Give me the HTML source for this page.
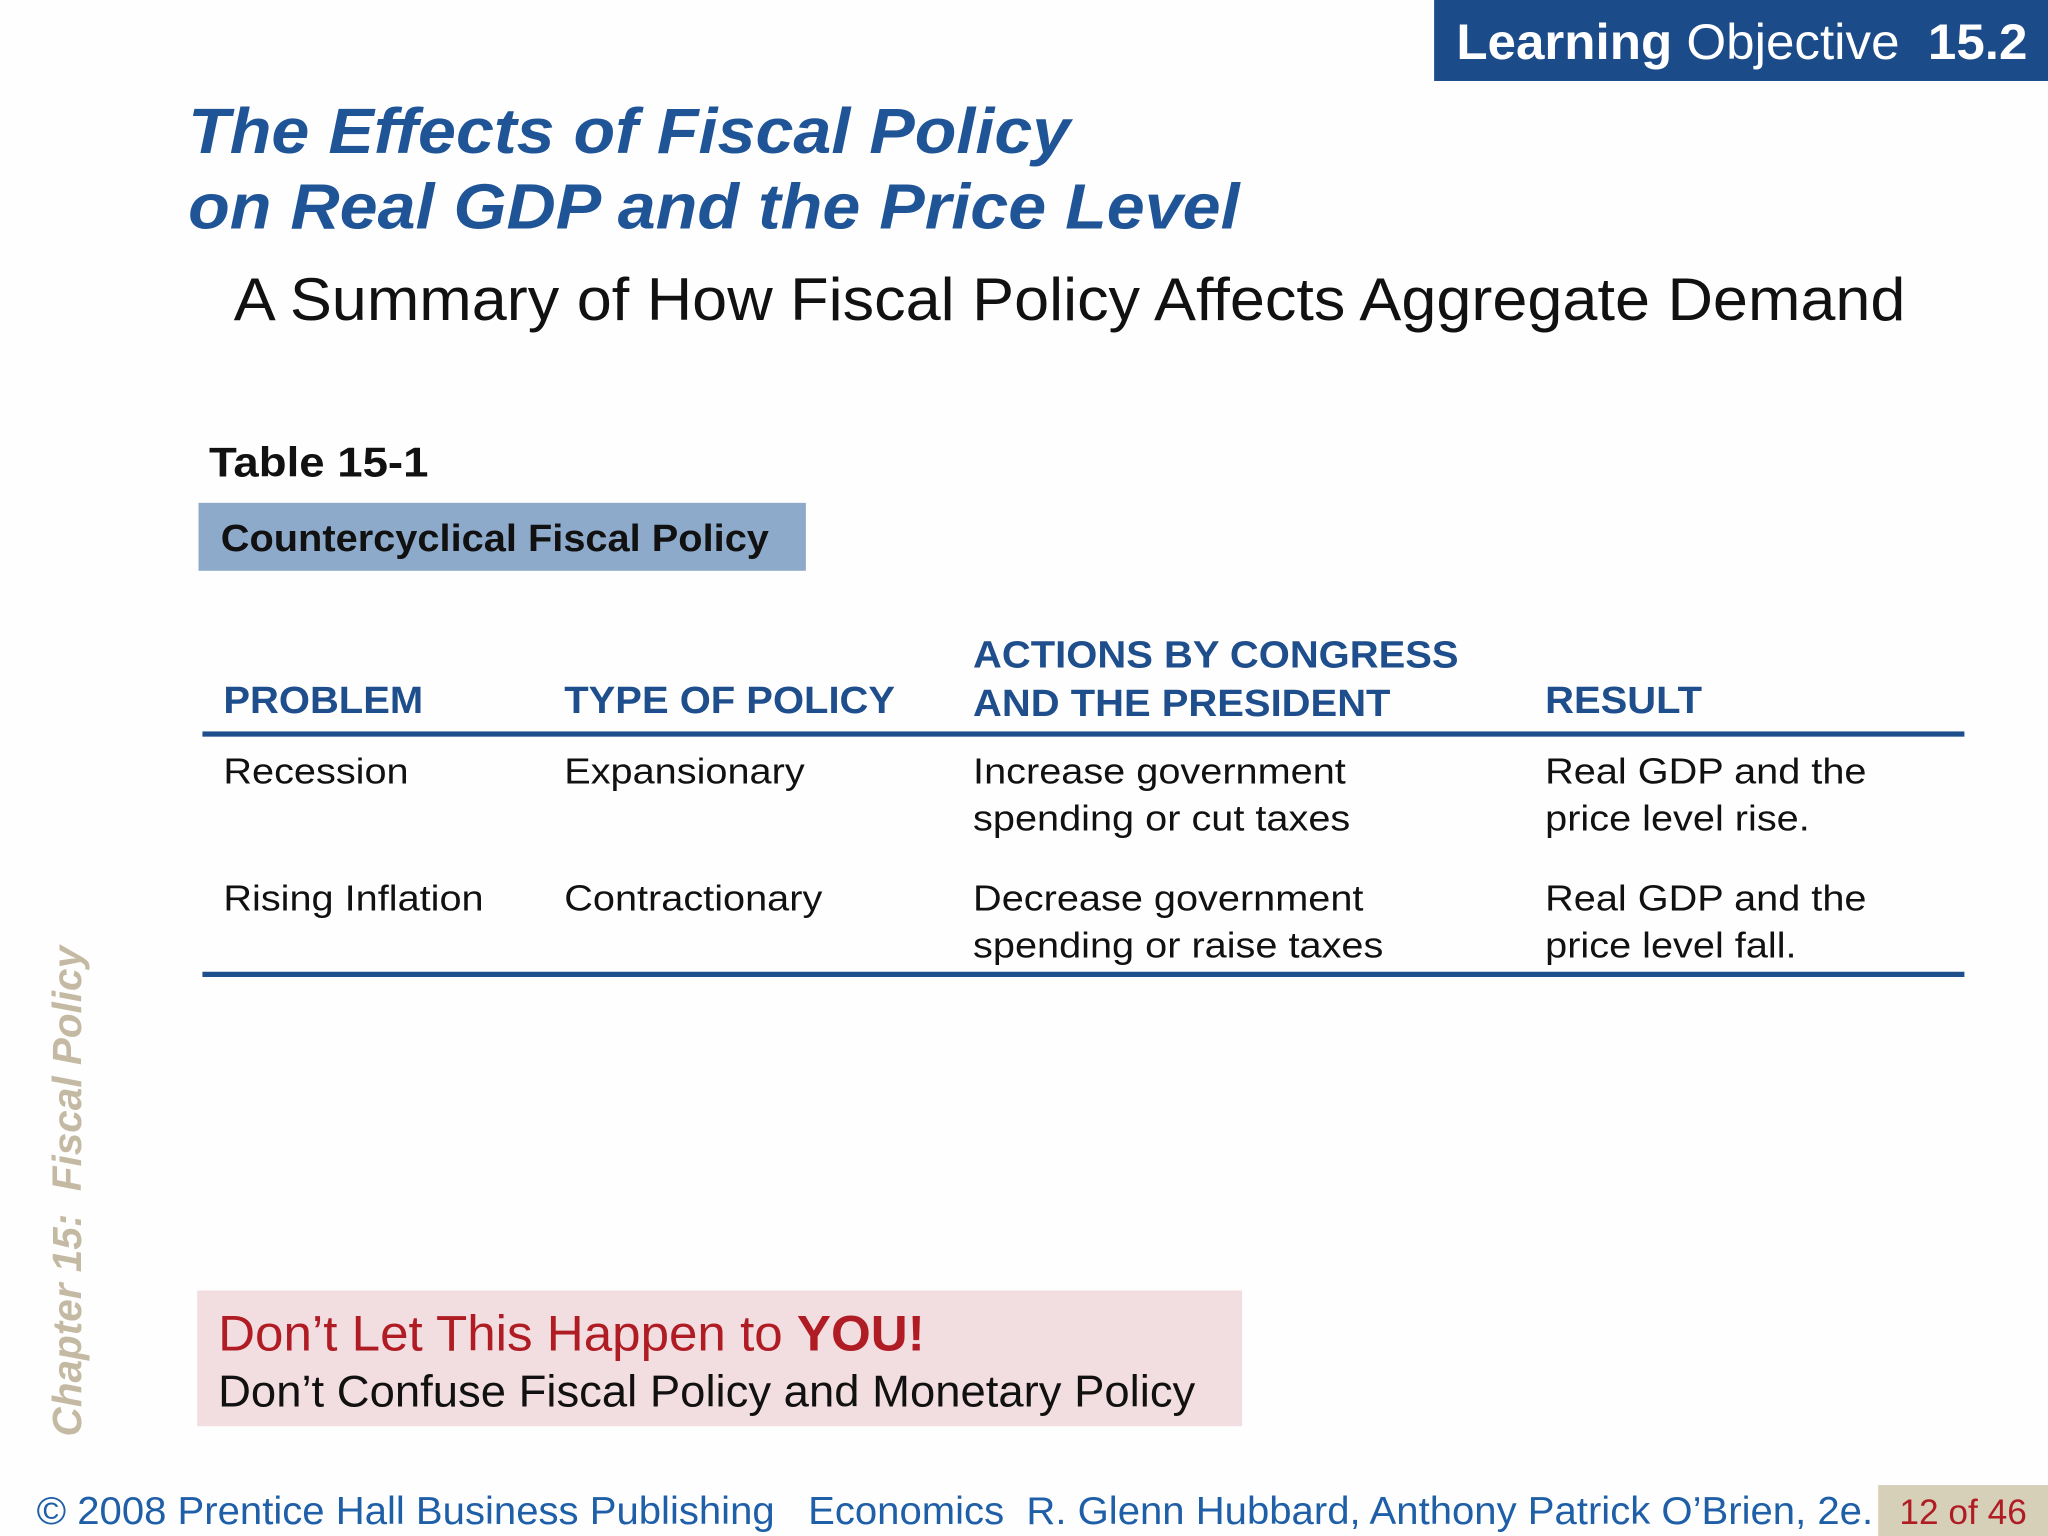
<!DOCTYPE html>
<html><head><meta charset="utf-8"><style>
html,body{margin:0;padding:0;background:#fff;}
#page{position:absolute;left:0;top:0;width:1568px;height:1176px;transform:scale(1.30612);transform-origin:0 0;font-family:"Liberation Sans",Arial,sans-serif;background:#fefefe;overflow:hidden;}
.a{position:absolute;white-space:nowrap;transform-origin:0 0;}
.h{color:#1f4e8c;font-weight:bold;font-size:29px;transform:scaleX(1.055);}
.c{font-size:28px;color:#111;line-height:36px;transform:scaleX(1.085);}
</style></head><body>
<div id="page">
<div class="a" style="left:1098px;top:0;width:470px;height:62px;background:#1c4b8a;color:#fff;font-size:38px;line-height:66px;padding-left:17px;box-sizing:border-box;"><span style="display:inline-block;transform:scaleX(1.03);transform-origin:0 0;"><b>Learning</b> Objective &nbsp;<b>15.2</b></span></div>
<div class="a" style="left:144px;top:72px;color:#1f5597;font-size:49px;font-weight:bold;font-style:italic;line-height:58px;transform:scaleX(1.066);">The Effects of Fiscal Policy<br>on Real GDP and the Price Level</div>
<div class="a" style="left:179px;top:202px;font-size:46px;color:#111;transform:scaleX(1.048);">A Summary of How Fiscal Policy Affects Aggregate Demand</div>
<div class="a" style="left:160px;top:336px;font-size:32px;font-weight:bold;color:#111;transform:scaleX(1.09);">Table 15-1</div>
<div class="a" style="left:152px;top:385px;width:465px;height:52px;background:#8eaacb;"></div>
<div class="a" style="left:169px;top:385px;font-size:29px;font-weight:bold;color:#111;line-height:56px;transform:scaleX(1.05);">Countercyclical Fiscal Policy</div>
<div class="a h" style="left:171px;top:521px;">PROBLEM</div>
<div class="a h" style="left:432px;top:521px;">TYPE OF POLICY</div>
<div class="a h" style="left:745px;top:484px;line-height:37px;">ACTIONS BY CONGRESS<br>AND THE PRESIDENT</div>
<div class="a h" style="left:1183px;top:521px;">RESULT</div>
<div class="a" style="left:155px;top:560px;width:1349px;height:4px;background:#1f4e8c;"></div>
<div class="a c" style="left:171px;top:573px;">Recession</div>
<div class="a c" style="left:432px;top:573px;">Expansionary</div>
<div class="a c" style="left:745px;top:573px;">Increase government<br>spending or cut taxes</div>
<div class="a c" style="left:1183px;top:573px;">Real GDP and the<br>price level rise.</div>
<div class="a c" style="left:171px;top:670px;">Rising Inflation</div>
<div class="a c" style="left:432px;top:670px;">Contractionary</div>
<div class="a c" style="left:745px;top:670px;">Decrease government<br>spending or raise taxes</div>
<div class="a c" style="left:1183px;top:670px;">Real GDP and the<br>price level fall.</div>
<div class="a" style="left:155px;top:744px;width:1349px;height:4px;background:#1f4e8c;"></div>
<div class="a" style="left:52px;top:912px;transform:translate(-50%,-50%) rotate(-90deg);transform-origin:50% 50%;font-size:31px;font-weight:bold;font-style:italic;color:#c4b9a2;">Chapter 15: &nbsp;Fiscal Policy</div>
<div class="a" style="left:151px;top:988px;width:800px;height:104px;background:#f2dde0;"></div>
<div class="a" style="left:167px;top:1001px;font-size:38px;color:#b01c24;transform:scaleX(1.03);">Don’t Let This Happen to <b>YOU!</b></div>
<div class="a" style="left:167px;top:1047px;font-size:34px;color:#111;transform:scaleX(1.023);">Don’t Confuse Fiscal Policy and Monetary Policy</div>
<div class="a" style="left:28px;top:1141px;font-size:30px;color:#1f5fa8;transform:scaleX(1.023);">© 2008 Prentice Hall Business Publishing &nbsp; Economics &nbsp;R. Glenn Hubbard, Anthony Patrick O’Brien, 2e.</div>
<div class="a" style="left:1438px;top:1137px;width:130px;height:39px;background:#d6d0b8;color:#b01c24;font-size:27px;line-height:42px;text-align:center;">12 of 46</div>
</div>
</body></html>
